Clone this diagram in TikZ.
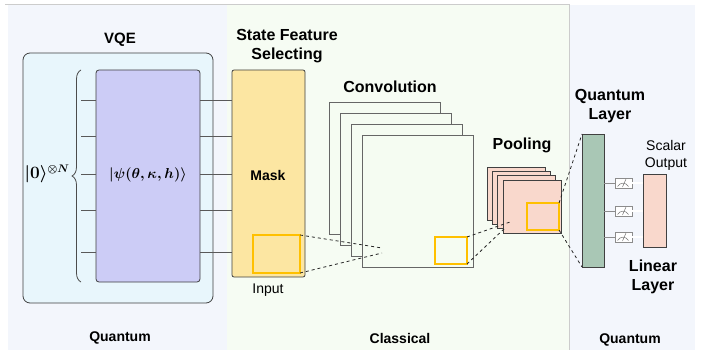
\documentclass[tikz,border=0pt]{standalone}
\usepackage{amsmath}
\usepackage[no-math]{fontspec}
\setmainfont{Liberation Sans}
\usetikzlibrary{decorations.pathreplacing,calc}
\definecolor{qbg}{HTML}{F3F6FC}
\definecolor{cbg}{HTML}{F6FCF3}
\definecolor{vqefill}{HTML}{E8F6FC}
\definecolor{psifill}{HTML}{CCCCF6}
\definecolor{maskfill}{HTML}{FCE6A2}
\definecolor{ysqcol}{HTML}{FFC000}
\definecolor{convfill}{HTML}{F5FCF2}
\definecolor{poolfill}{HTML}{F9D8CC}
\definecolor{qlfill}{HTML}{A9C7B5}
\begin{document}
\begin{tikzpicture}[x=1pt,y=-1pt,
  font=\fontsize{14}{17}\selectfont,
  ttl/.style={font=\fontsize{16}{19}\selectfont\bfseries, align=center},
  lbl/.style={font=\fontsize{14}{17}\selectfont\bfseries, align=center},
  txt/.style={font=\fontsize{14}{17}\selectfont, align=center},
  mth/.style={font=\fontsize{15}{18}\selectfont\boldmath},
  blk/.style={draw=black!75, line width=0.8pt, inner sep=0pt, outer sep=0pt, anchor=north west},
  wire/.style={draw=black!65, line width=0.9pt},
  ysq/.style={draw=ysqcol, line width=2pt, inner sep=0pt, outer sep=0pt, anchor=north west},
  dashln/.style={dashed, line width=0.8pt, draw=black!85},
  meas/.style={draw=black!45, fill=white, line width=0.5pt, minimum width=17pt, minimum height=10pt, inner sep=0pt, outer sep=0pt}
]
\useasboundingbox (0,0) rectangle (710,350);
% backgrounds
\fill[qbg] (8,5) rectangle (227,350);
\fill[cbg] (227,5) rectangle (569,350);
\fill[qbg] (569,5) rectangle (695,350);
\draw[black!20, line width=0.8pt] (5,4.5) -- (569,4.5) -- (569,350);

% VQE
\node[blk, rounded corners=7pt, fill=vqefill, minimum width=190pt, minimum height=250pt] (vqe) at (23,53) {};
\node[ttl, font=\fontsize{15}{18}\selectfont\bfseries] (vqel) at (120,40) {VQE};
\node[blk, rounded corners=3pt, fill=psifill, minimum width=104pt, minimum height=212pt] (psi) at (96,70) {};
\node[mth] (psil) at (148,175) {$|\psi(\theta,\kappa,h)\rangle$};
\draw[decorate, decoration={brace, amplitude=9pt}, line width=0.8pt, draw=black!70] (81,282) -- (81,70);
\node[mth, font=\fontsize{16}{18}\selectfont\boldmath] (ket) at (47,174) {$|\mathbf{0}\rangle^{\otimes N}$};

% Mask
\node[blk, rounded corners=2pt, fill=maskfill, minimum width=73pt, minimum height=207pt] (mask) at (232,70) {};
\node[lbl] (maskl) at (268,175) {Mask};
\node[ttl] (sfs) at (287,46) {State Feature\\Selecting};
\node[ysq, minimum width=47pt, minimum height=38pt] (ysq1) at (253,235) {};
\node[txt] (inp) at (268,290) {Input};

% wires
\foreach \y [count=\k] in {100,136,174,210,252} {
  \coordinate (wl\k) at (81,\y);
  \draw[wire] (wl\k) -- (wl\k -| psi.west);
  \draw[wire] (psi.east |- wl\k) -- (mask.west |- wl\k);
}

% Convolution
\foreach \i in {0,...,3} {
  \node[blk, draw=black!60, fill=convfill, minimum width=111pt, minimum height=132pt] (conv\i) at (329+11*\i,102+11*\i) {};
}
\node[ttl] (convl) at (390,87) {Convolution};
\node[ysq, minimum width=32pt, minimum height=27pt] (ysq2) at (435,237) {};
\coordinate (cv1) at (382,248);
\coordinate (cv2) at (382,253);
\draw[dashln] (ysq1.north east) -- (cv1);
\draw[dashln] (ysq1.south east) -- (cv2);

% Pooling
\foreach \i in {0,...,3} {
  \node[blk, fill=poolfill, minimum width=58pt, minimum height=53pt] (pool\i) at (487+5.3*\i,167+4.4*\i) {};
}
\node[ttl] (pooll) at (522,145) {Pooling};
\node[ysq, minimum width=32pt, minimum height=27pt] (ysq3) at (527,203) {};
\coordinate (pl1) at (510,222);
\coordinate (pl2) at (505,228);
\draw[dashln] (ysq2.north east) -- (pl1);
\draw[dashln] (ysq2.south east) -- (pl2);

% Quantum layer
\node[blk, fill=qlfill, minimum width=22pt, minimum height=133pt] (ql) at (582,134) {};
\node[ttl] (qll) at (610,106) {Quantum\\Layer};
\draw[dashln] (ysq3.north east) -- (ql.north west);
\draw[dashln] (ysq3.south east) -- (ql.south west);

% Linear layer
\node[blk, fill=poolfill, minimum width=23pt, minimum height=73pt] (lin) at (643,174) {};
\node[txt] (sol) at (666,155) {Scalar\\Output};
\node[ttl] (linl) at (653,277) {Linear\\Layer};

\foreach \y [count=\k] in {183,211,237} {
  \node[meas] (m\k) at (623.5,\y) {};
  \draw[black!55, line width=0.5pt] ($(m\k.center)+(-6,3.5)$) .. controls ($(m\k.center)+(-3,-1)$) and ($(m\k.center)+(2,-1)$) .. ($(m\k.center)+(5,3.5)$);
  \draw[black!55, line width=0.5pt] ($(m\k.center)+(-1,4)$) -- ($(m\k.center)+(2.5,-4)$);
  \draw[black!45, line width=0.6pt] (ql.east |- m\k) -- (m\k.west);
  \draw[black!40, double=white, double distance=1.2pt, line width=0.4pt] (m\k.east) -- (lin.west |- m\k);
}

% bottom labels
\node[lbl] (bq1) at (120,338) {Quantum};
\node[lbl] (bc) at (400,338) {Classical};
\node[lbl] (bq2) at (630,340) {Quantum};
\end{tikzpicture}
\end{document}
